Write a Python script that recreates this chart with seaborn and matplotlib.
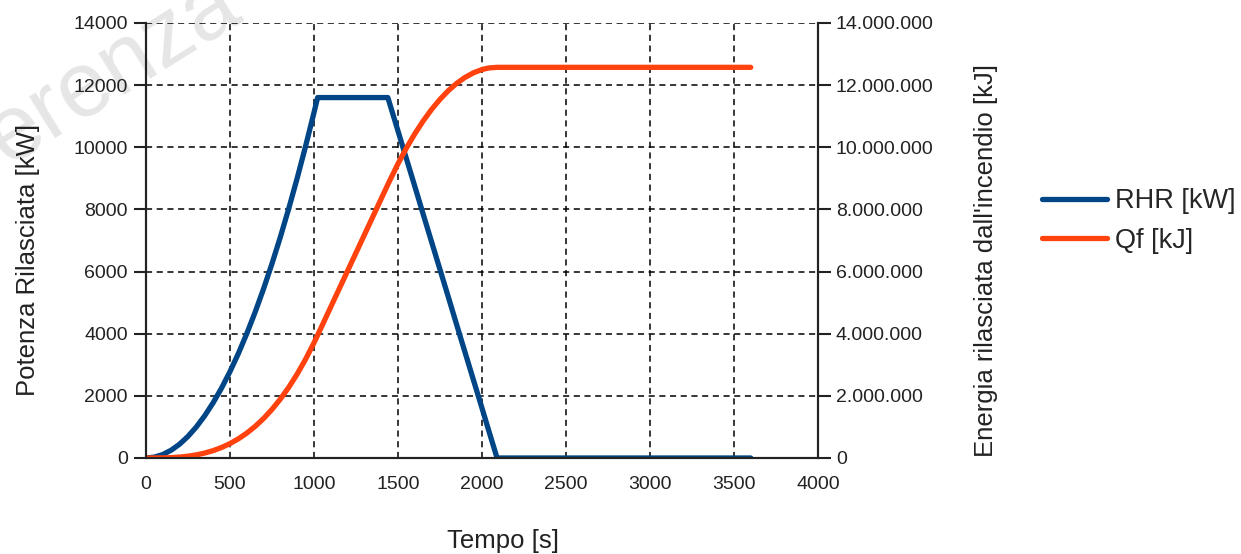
import numpy as np
import pandas as pd
import matplotlib
matplotlib.use("Agg")
import matplotlib.pyplot as plt
from matplotlib.ticker import FuncFormatter
import seaborn as sns

# values
tempo = [0, 50, 100, 150, 200, 250, 300, 350, 400, 450, 500, 550, 600,
         650, 700, 750, 800, 850, 900, 950, 1000, 1022, 1100, 1200, 1300,
         1400, 1440, 1500, 1550, 1600, 1650, 1700, 1750, 1800, 1850, 1900,
         1950, 2000, 2040, 2090, 2500, 3000, 3600]
rhr = [0, 28, 111, 250, 444, 694, 1000, 1361, 1778, 2250, 2778, 3361, 4000,
       4694, 5444, 6250, 7111, 8028, 9000, 10028, 11111, 11600, 11600,
       11600, 11600, 11600, 11600, 10530, 9640, 8750, 7850, 6960, 6070,
       5180, 4280, 3390, 2500, 1610, 890, 0, 0, 0, 0]
qf = [0, 460, 3700, 12500, 29600, 57900, 100000, 158800, 237000, 337500,
      463000, 616200, 800000, 1017100, 1270000, 1562500, 1896000, 2274000,
      2700000, 3175900, 3704000, 3954000, 4859000, 6019000, 7179000,
      8339000, 8803000, 9467000, 9971000, 10431000, 10846000, 11216000,
      11541000, 11823000, 12059000, 12251000, 12398000, 12501000, 12552000,
      12573000, 12573000, 12573000, 12573000]

df = pd.DataFrame({"Tempo": tempo, "RHR": rhr, "Qf": qf})

sns.set_style("white")
plt.rcParams["font.family"] = ["Liberation Sans", "DejaVu Sans"]

blu = "#004586"
arancio = "#ff420e"
testo = "#222222"

fig = plt.figure(figsize=(12.41, 5.54), dpi=100)
ax = fig.add_axes([0.1176, 0.1733, 0.5415, 0.7852])
ax.patch.set_alpha(0)
ax2 = ax.twinx()

# watermark (partly outside the picture, as in the reference)
fig.text(0.005, 0.70, "erenza", rotation=32, rotation_mode="anchor",
         fontsize=66, color="#e6e6e6", ha="left", va="baseline", zorder=-1)

sns.lineplot(data=df, x="Tempo", y="RHR", ax=ax, color=blu, lw=3.8,
             label="RHR [kW]", legend=False)
sns.lineplot(data=df, x="Tempo", y="Qf", ax=ax2, color=arancio, lw=3.8,
             label="Qf [kJ]", legend=False)

ax.set_xlim(0, 4000)
ax.set_ylim(0, 14000)
ax2.set_ylim(0, 14000000)
ax.set_xticks(np.arange(0, 4001, 500))
ax.set_yticks(np.arange(0, 14001, 2000))
ax2.set_yticks(np.arange(0, 14000001, 2000000))
ax2.yaxis.set_major_formatter(FuncFormatter(lambda v, p: f"{int(v):,}".replace(",", ".")))

ax.grid(True, color="black", ls=(0, (4, 3)), lw=1.1)
ax.set_axisbelow(True)

for a in (ax, ax2):
    a.spines["top"].set_visible(False)
    for s in ("left", "right", "bottom"):
        a.spines[s].set_color(testo)
        a.spines[s].set_linewidth(1.5)
    a.tick_params(direction="out", length=9, width=1.5, color=testo,
                  labelsize=14, labelcolor=testo, pad=4)

ax.set_xlabel("Tempo [s]", fontsize=18.5, color=testo)
ax.set_ylabel("Potenza Rilasciata [kW]", fontsize=18.5, color=testo)
ax2.set_ylabel("Energia rilasciata dall'incendio [kJ]", fontsize=18.5, color=testo)
ax.xaxis.set_label_coords(0.531, -0.163)
ax.yaxis.set_label_coords(-0.157, 0.455)
ax2.yaxis.set_label_coords(1.232, 0.455)

h1, l1 = ax.get_legend_handles_labels()
h2, l2 = ax2.get_legend_handles_labels()
fig.legend(h1 + h2, l1 + l2, loc="center left", bbox_to_anchor=(0.8397, 0.601),
           frameon=False, fontsize=19.5, handlelength=2.4, handletextpad=0.3,
           labelspacing=0.5, borderpad=0, borderaxespad=0)

fig.savefig("out.png", dpi=100)
